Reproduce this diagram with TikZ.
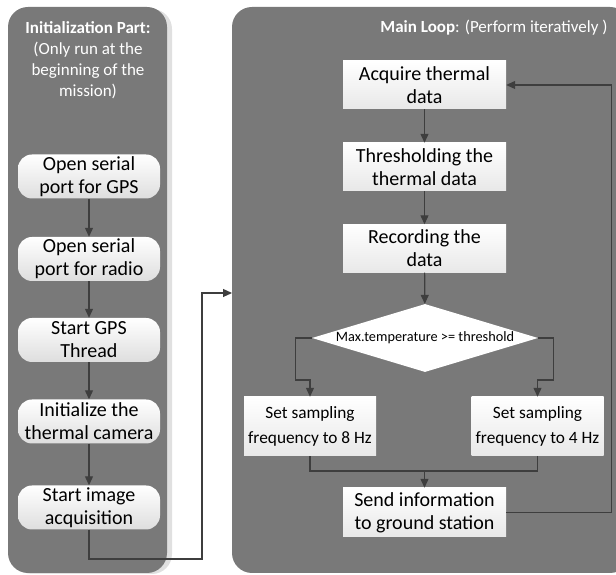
\documentclass[tikz,border=0pt]{standalone}
\usepackage{fontspec}
\setmainfont{Carlito}
\usetikzlibrary{arrows.meta,shapes.geometric,calc}
\definecolor{panelgray}{RGB}{121,121,121}
\definecolor{linegray}{RGB}{62,62,62}

\begin{document}
\begin{tikzpicture}[x=1pt,y=1pt,
  panel/.style={fill=panelgray, draw=none, rounded corners=20pt},
  boxtext/.style={align=center, inner sep=0pt, font=\fontsize{20}{23}\selectfont},
  initbox/.style={boxtext, rectangle, rounded corners=14pt, top color=white,
                  bottom color=black!13, minimum width=142pt, minimum height=44pt},
  mainbox/.style={boxtext, rectangle, top color=white, bottom color=black!9,
                  minimum width=163pt, minimum height=48pt},
  ratebox/.style={mainbox, minimum width=132pt, minimum height=59pt,
                  font=\fontsize{17.3}{25}\selectfont},
  link/.style={draw=linegray, line width=1.2pt},
  flow/.style={link, -{Triangle[length=9pt,width=8pt]}}]

\clip (0,0) rectangle (616,575);

% panels
\fill[black!12, rounded corners=20pt] (12,1) rectangle (172,566);
\fill[panel] (8,2) rectangle (167,568);
\fill[panel] (232,2) rectangle (630,568);
\coordinate (loopin) at (232,282);

\node[white, align=center, font=\fontsize{17}{21}\selectfont] (inittitle) at (88,514.5)
  {\textbf{Initialization Part:}\\(Only run at the\\beginning of the\\mission)};
\node[white, anchor=east, font=\fontsize{17}{21}\selectfont] (maintitle) at (611,547)
  {\textbf{Main Loop}: (Perform iteratively )};

% initialization part
\node[initbox] (gps)    at (89,398.5) {Open serial\\port for GPS};
\node[initbox] (radio)  at (89,316)   {Open serial\\port for radio};
\node[initbox] (thread) at (89,235)   {Start GPS\\Thread};
\node[initbox] (camera) at (89,153.5) {Initialize the\\thermal camera};
\node[initbox] (start)  at (89,67.5)  {Start image\\acquisition};

\draw[flow] (gps) -- (radio);
\draw[flow] (radio) -- (thread);
\draw[flow] (thread) -- (camera);
\draw[flow] (camera) -- (start);
\coordinate (bend) at (202,16);
\draw[flow] (start.south) |- (bend) |- (loopin);

% main loop
\node[mainbox] (acquire) at (424.5,490)   {Acquire thermal\\data};
\node[mainbox] (thresh)  at (424.5,408)   {Thresholding the\\thermal data};
\node[mainbox] (record)  at (424.5,326.5) {Recording the\\data};
\node[diamond, fill=white, aspect=3.32, inner sep=0pt, minimum width=226pt,
      minimum height=68pt, font=\fontsize{14.3}{16}\selectfont] (check) at (425,237)
  {Max.temperature >= threshold};
\node[ratebox] (rate8) at (310,148.5)   {Set sampling\\frequency to 8 Hz};
\node[ratebox] (rate4) at (537.5,148.5) {Set sampling\\frequency to 4 Hz};
\node[mainbox, minimum height=49pt] (send) at (424.5,62.5) {Send information\\to ground station};
\coordinate (merge) at (424.5,104);

\draw[flow] (acquire) -- (thresh);
\draw[flow] (thresh) -- (record);
\draw[flow] (record) -- (check);
\draw[flow] (check.west) -- ++(-16,0) -- ++(0,-42) -| (rate8.north);
\draw[flow] (check.east) -- ++(15,0) -- ++(0,-42) -| (rate4.north);
\draw[link] (rate8.south) |- (merge) -| (rate4.south);
\draw[flow] (merge) -- (send);
\draw[flow] (send.east) -- ++(105,0) |- (acquire.east);

\end{tikzpicture}
\end{document}
